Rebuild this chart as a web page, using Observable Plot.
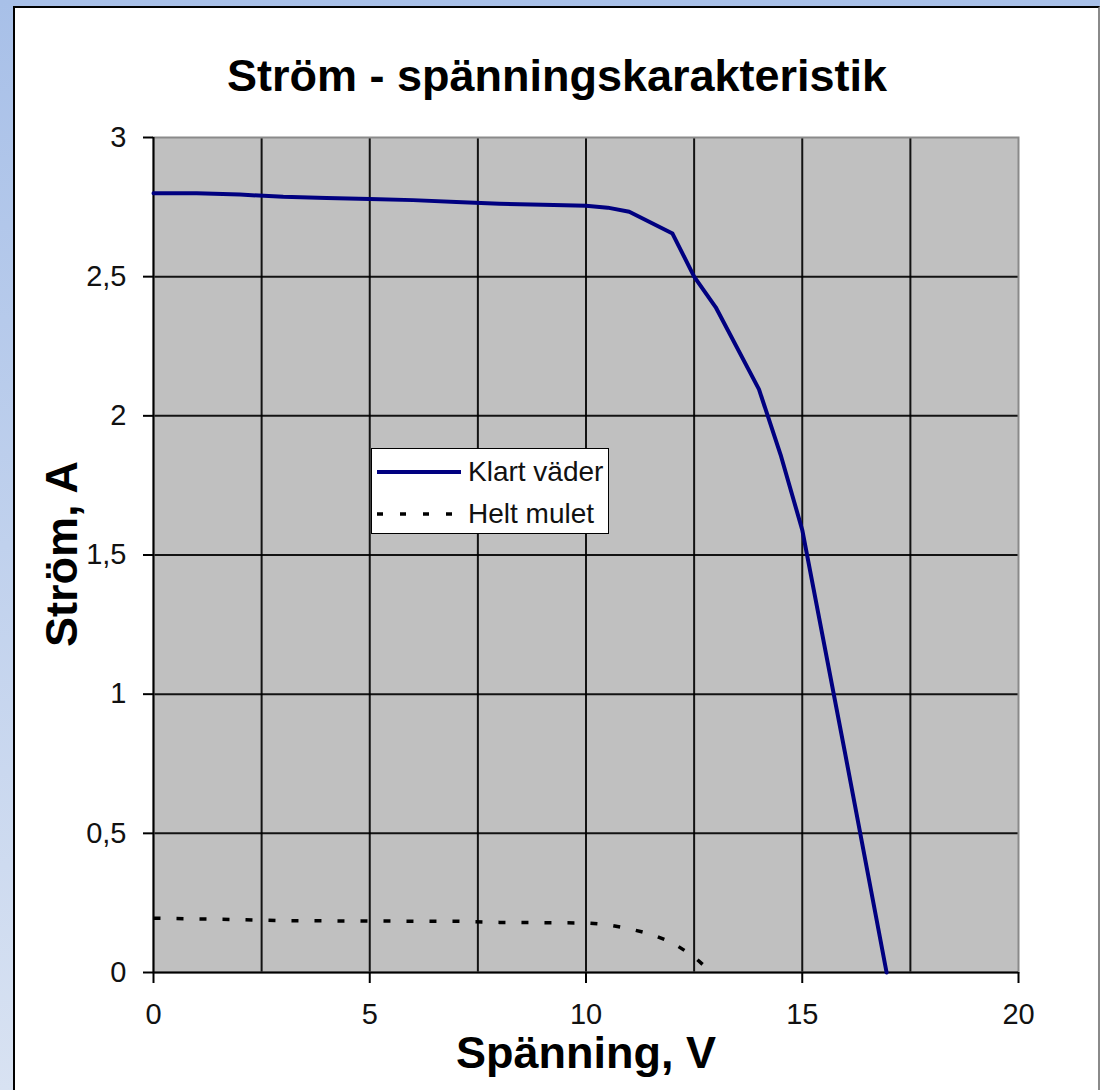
<!DOCTYPE html>
<html>
<head>
<meta charset="utf-8">
<script src="https://cdn.jsdelivr.net/npm/d3@7"></script>
<script src="https://cdn.jsdelivr.net/npm/@observablehq/plot@0.6"></script>
<style>
  html, body { margin: 0; padding: 0; }
  body {
    width: 1100px; height: 1090px; overflow: hidden; position: relative;
    background: linear-gradient(to bottom, #a8c0e8, #d8e2f2);
    font-family: "Liberation Sans", Arial, sans-serif;
  }
  #panel {
    position: absolute; left: 13px; top: 6px; width: 1083px; height: 1090px;
    background: #fff; border-top: 2px solid #000; border-left: 2px solid #000; border-right: 2px solid #8a8a8a;
  }
  #chart { position: absolute; left: 0; top: 0; }
  .txt { position: absolute; white-space: nowrap; font-weight: bold; font-size: 45px; line-height: 45px; color: #000; }
  #title { left: 557px; top: 53px; transform: translateX(-50%); }
  #xlabel { left: 586px; top: 1030px; transform: translateX(-50%); }
  #ylabel { left: 61px; top: 554px; transform: translate(-50%, -50%) rotate(-90deg); }
  #legend {
    position: absolute; left: 371px; top: 448px; width: 236px; height: 84px;
    background: #fff; border: 1.5px solid #000;
  }
  .lrow { position: absolute; left: 0; height: 30px; display: flex; align-items: center; font-size: 28px; color: #111; }
  .lrow svg { margin-left: 5px; margin-right: 7px; }
</style>
</head>
<body>
<div id="panel"></div>
<div id="chart"></div>
<div id="title" class="txt">Ström - spänningskarakteristik</div>
<div id="xlabel" class="txt">Spänning, V</div>
<div id="ylabel" class="txt">Ström, A</div>
<div id="legend">
  <div class="lrow" style="top:8px"><svg width="84" height="10"><line x1="0" x2="84" y1="5" y2="5" stroke="#000080" stroke-width="4"/></svg><span>Klart väder</span></div>
  <div class="lrow" style="top:50px"><svg width="84" height="10"><line x1="0" x2="84" y1="5" y2="5" stroke="#000" stroke-width="3.5" stroke-dasharray="6,17"/></svg><span>Helt mulet</span></div>
</div>
<script>
// Series: Klart väder (clear weather)
const klartV = [0, 1, 2, 3, 4, 5, 6, 7, 8, 9, 10, 10.5, 11, 12, 12.5, 13, 14, 14.5, 15, 16, 16.95];
const klartA = [2.80, 2.80, 2.795, 2.787, 2.783, 2.779, 2.775, 2.768, 2.762, 2.758, 2.755, 2.748, 2.733, 2.655, 2.50, 2.39, 2.095, 1.86, 1.59, 0.78, 0];
// Series: Helt mulet (fully overcast)
const muletV = [0, 2, 3, 5, 7, 8, 10, 10.5, 11, 11.5, 12, 12.5, 12.9];
const muletA = [0.195, 0.19, 0.186, 0.185, 0.184, 0.18, 0.178, 0.172, 0.157, 0.138, 0.107, 0.057, 0];
// Axis ticks
const xTicks = [0, 5, 10, 15, 20];
const xGrid = [2.5, 5, 7.5, 10, 12.5, 15, 17.5];
const yTicks = [0, 0.5, 1, 1.5, 2, 2.5, 3];
const yGrid = [0.5, 1, 1.5, 2, 2.5];

const klart = klartV.map((v, i) => ({v, a: klartA[i]}));
const mulet = muletV.map((v, i) => ({v, a: muletA[i]}));

const chart = Plot.plot({
  width: 1100,
  height: 1090,
  marginLeft: 153,
  marginRight: 82,
  marginTop: 137,
  marginBottom: 118,
  style: {background: "transparent", fontFamily: "Liberation Sans, Arial, sans-serif", fontSize: "29px", color: "#000", overflow: "visible"},
  x: {domain: [0, 20]},
  y: {domain: [0, 3]},
  marks: [
    Plot.frame({fill: "#c0c0c0"}),
    Plot.gridX(xGrid, {stroke: "#000", strokeOpacity: 0.9, strokeWidth: 2}),
    Plot.gridY(yGrid, {stroke: "#000", strokeOpacity: 0.9, strokeWidth: 2}),
    Plot.frame({stroke: "#8a8a8a", strokeWidth: 2}),
    Plot.ruleX([0], {stroke: "#000", strokeWidth: 2}),
    Plot.ruleY([0], {stroke: "#000", strokeWidth: 2}),
    Plot.line(mulet, {x: "v", y: "a", stroke: "#000", strokeWidth: 3.5, strokeDasharray: "7,16", strokeLinecap: "butt"}),
    Plot.line(klart, {x: "v", y: "a", stroke: "#000080", strokeWidth: 4}),
    Plot.axisX({ticks: xTicks, tickSize: 11, tickPadding: 20, fontSize: 29, strokeWidth: 2, label: null, fill: "#111"}),
    Plot.axisY({ticks: yTicks, tickSize: 10, tickPadding: 17, fontSize: 29, strokeWidth: 2, label: null, fill: "#111",
      tickFormat: d => String(d).replace(".", ",")})
  ]
});
document.getElementById("chart").appendChild(chart);
</script>
</body>
</html>
